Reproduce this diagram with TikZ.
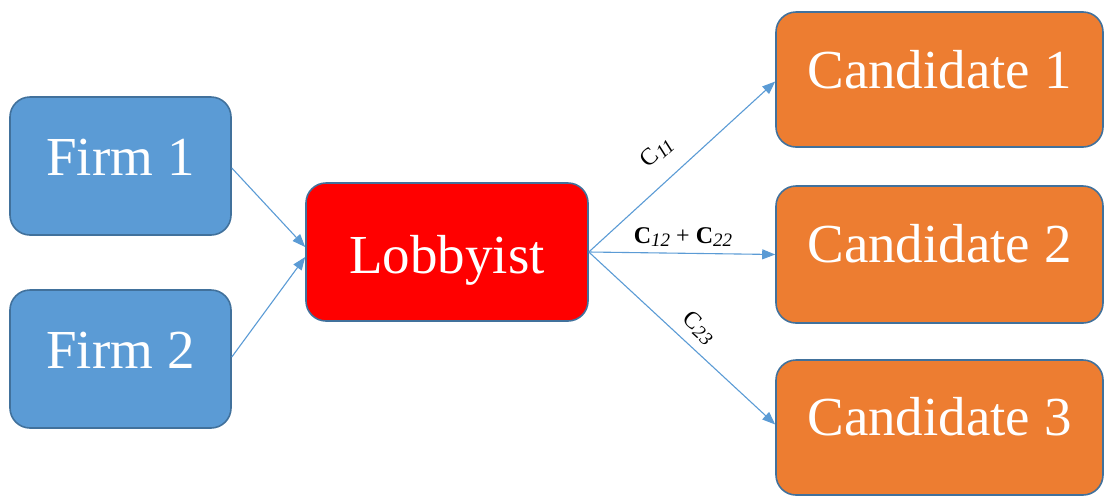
\documentclass[tikz,border=0pt]{standalone}
\usepackage{fontspec}
\setmainfont{Liberation Serif}
\usetikzlibrary{arrows.meta,calc}
\definecolor{boxblue}{HTML}{5B9BD5}
\definecolor{edgeblue}{HTML}{41719C}
\definecolor{candorange}{HTML}{ED7D31}
\definecolor{lobred}{HTML}{FF0000}
\tikzset{
  boxstyle/.style={draw=edgeblue, line width=1.6pt, rounded corners=20pt, inner xsep=0pt, inner ysep=0pt,
     text=white, font=\fontsize{55}{55}\selectfont},
  firmbox/.style={boxstyle, fill=boxblue, minimum width=221pt},
  candbox/.style={boxstyle, fill=candorange, minimum width=327pt},
  lobbox/.style={boxstyle, fill=lobred, minimum width=282pt},
  conn/.style={draw=boxblue, line width=1.1pt, -{Triangle[length=13pt,width=10pt]}},
  lbl/.style={inner sep=0pt, font=\fontsize{24}{24}\selectfont}
}
\newcommand{\subit}[1]{\raisebox{-3pt}{\fontsize{19}{19}\selectfont\itshape #1}}
\begin{document}
\begin{tikzpicture}[x=1pt,y=-1pt]
\useasboundingbox (0,0) rectangle (1104,496);
\node[firmbox, text height=78pt, text depth=60pt] (f1) at (120.5,166) {Firm 1};
\node[firmbox, text height=78pt, text depth=60pt] (f2) at (120.5,359) {Firm 2};
\node[lobbox, text height=90pt, text depth=48pt] (lob) at (447,252) {Lobbyist};
\node[candbox, text height=76pt, text depth=59pt] (c1) at (939.5,79.5) {Candidate 1};
\node[candbox, text height=76pt, text depth=61pt] (c2) at (939.5,254.5) {Candidate 2};
\node[candbox, text height=75pt, text depth=60pt] (c3) at (939.5,427.5) {Candidate 3};
\draw[conn] ($(f1.east)+(0,2)$) -- ($(lob.west)+(0,-5)$);
\draw[conn] ($(f2.east)+(0,-2)$) -- ($(lob.west)+(0,5)$);
\draw[conn] (lob.east) -- ($(c1.west)+(0,2)$);
\draw[conn] (lob.east) -- (c2.west);
\draw[conn] (lob.east) -- ($(c3.west)+(0,-3)$);
\node[lbl, rotate=42.5] (l11) at (657,152) {C\subit{11}};
\node[lbl] (l12) at (683,237) {\textbf{C}\subit{12} + \textbf{C}\subit{22}};
\node[lbl, rotate=-42.5] (l23) at (699,328) {C\subit{23}};
\end{tikzpicture}
\end{document}
